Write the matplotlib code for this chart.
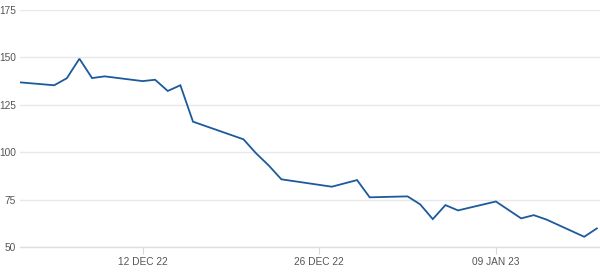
import numpy as np
import pandas as pd
import matplotlib.pyplot as plt
import matplotlib.dates as mdates

# values
dates = pd.to_datetime([
    "2022-12-02", "2022-12-05", "2022-12-06", "2022-12-07", "2022-12-08",
    "2022-12-09", "2022-12-12", "2022-12-13", "2022-12-14", "2022-12-15",
    "2022-12-16", "2022-12-20", "2022-12-21", "2022-12-22", "2022-12-23",
    "2022-12-27", "2022-12-29", "2022-12-30", "2023-01-02", "2023-01-03",
    "2023-01-04", "2023-01-05", "2023-01-06", "2023-01-09", "2023-01-11",
    "2023-01-12", "2023-01-13", "2023-01-16", "2023-01-17",
])
prices = [
    137.0, 135.3, 139.0, 149.3, 139.1,
    140.0, 137.5, 138.2, 132.3, 135.3,
    116.1, 106.8, 99.4, 93.0, 85.7,
    81.8, 85.3, 76.2, 76.7, 72.5,
    64.7, 72.1, 69.3, 74.0, 65.1,
    66.8, 64.5, 55.4, 59.8,
]
y_ticks = [50, 75, 100, 125, 150, 175]
x_ticks = pd.to_datetime(["2022-12-12", "2022-12-26", "2023-01-09"])

plt.rcParams['font.family'] = ['Liberation Sans', 'DejaVu Sans']

fig = plt.figure(figsize=(6, 2.75), dpi=100)
ax = fig.add_axes([20 / 600, 1 - 247 / 275, 1 - 20 / 600, (247 - 10) / 275])

ax.plot(dates, prices, color="#1c5a9c", linewidth=1.3, solid_joinstyle="miter", clip_on=True)

ax.set_ylim(50, 175)
ax.set_yticks(y_ticks)
ax.set_xlim(pd.Timestamp("2022-12-02 07:00"), pd.Timestamp("2023-01-17 06:00"))
ax.set_xticks(x_ticks)
ax.xaxis.set_major_formatter(mdates.DateFormatter("%d %b %y"))
ax.set_xticklabels([d.strftime("%d %b %y").upper() for d in x_ticks])

ax.grid(axis="y", color="#e6e8ec", linewidth=1.0)
ax.set_axisbelow(True)
for side in ["top", "right", "left"]:
    ax.spines[side].set_visible(False)
ax.spines["bottom"].set_color("#dcdfe4")
ax.spines["bottom"].set_linewidth(1.0)

ax.tick_params(axis="y", length=0, pad=3, labelsize=7.3, labelcolor="#555555")
ax.tick_params(axis="x", length=5, width=0.8, color="#d5d8dd", pad=2,
               labelsize=7.3, labelcolor="#555555")
ax.set_facecolor("white")

fig.savefig("out.png", dpi=100)
